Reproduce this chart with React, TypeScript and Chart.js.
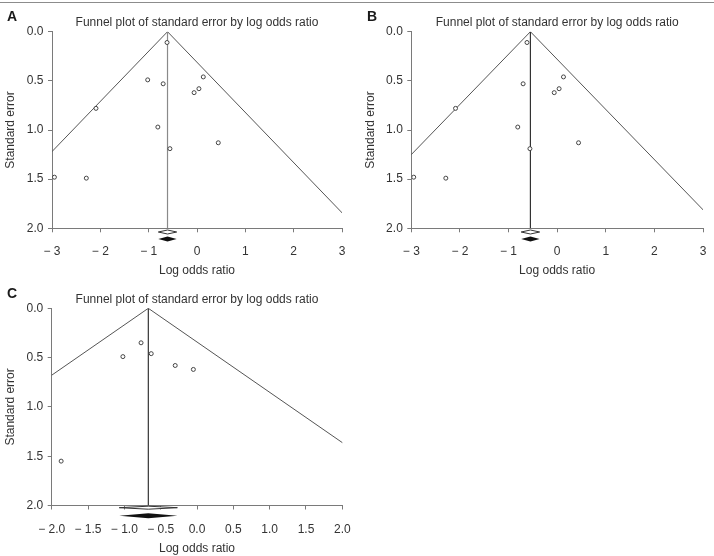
import React, { useEffect, useRef } from "react";
import { Chart, registerables } from "chart.js";

Chart.register(...registerables);

const FONT = "'Liberation Sans', Arial, Helvetica, sans-serif";
const TITLE = "Funnel plot of standard error by log odds ratio";
const X_TITLE = "Log odds ratio";
const Y_TITLE = "Standard error";

// Study estimates (log odds ratio) and their standard errors
const logOrA = [-0.62, -1.02, -0.7, 0.13, 0.04, -0.06, -2.09, -0.81, -0.56, 0.44, -2.95, -2.29];
const seA = [0.11, 0.49, 0.53, 0.46, 0.58, 0.62, 0.78, 0.97, 1.19, 1.13, 1.48, 1.49];

const logOrB = [-0.62, -0.7, 0.13, 0.04, -0.06, -2.09, -0.81, -0.56, 0.44, -2.95, -2.29];
const seB = [0.11, 0.53, 0.46, 0.58, 0.62, 0.78, 0.97, 1.19, 1.13, 1.48, 1.49];

const logOrC = [-0.77, -1.02, -0.63, -0.3, -0.05, -1.87];
const seC = [0.35, 0.49, 0.46, 0.58, 0.62, 1.55];

// Pooled estimate and 95% CI: [estimate, lower, upper]
const pooledA = [-0.61, -0.8, -0.42];
const pooledB = [-0.55, -0.74, -0.36];
const pooledC = [-0.67, -1.07, -0.27];

// Axis ticks
const xTicksAB = ["\u2212 3", "\u2212 2", "\u2212 1", "0", "1", "2", "3"];
const xTicksC = ["\u2212 2.0", "\u2212 1.5", "\u2212 1.0", "\u2212 0.5", "0.0", "0.5", "1.0", "1.5", "2.0"];
const yTicks = ["0.0", "0.5", "1.0", "1.5", "2.0"];

type Area = { left: number; right: number; top: number; bottom: number };

type PanelProps = {
  letter: string;
  left: number;
  top: number;
  width: number;
  height: number;
  area: Area;
  titleY: number;
  xTitleY: number;
  yTitleX: number;
  logOr: number[];
  se: number[];
  pooled: number[];
  xMin: number;
  xMax: number;
  xStep: number;
  xLabels: string[];
  midColor: string;
  diamondGap: number[];
  letterPos: number[];
};

const z = 1.96;

const diamondPlugin = {
  id: "pooledDiamonds",
  afterDraw(chart: any) {
    const opts = chart.options.plugins.pooledDiamonds;
    if (!opts) return;
    const { ctx, chartArea } = chart;
    const xs = chart.scales.x;
    const [mid, lo, hi] = opts.pooled;
    const cx = xs.getPixelForValue(mid);
    const l = xs.getPixelForValue(lo);
    const r = xs.getPixelForValue(hi);
    const draw = (cy: number, hh: number, filled: boolean) => {
      ctx.save();
      ctx.beginPath();
      ctx.moveTo(l, cy);
      ctx.lineTo(cx, cy - hh);
      ctx.lineTo(r, cy);
      ctx.lineTo(cx, cy + hh);
      ctx.closePath();
      if (filled) {
        ctx.fillStyle = "#111";
        ctx.fill();
      } else {
        ctx.fillStyle = "#fff";
        ctx.fill();
        ctx.strokeStyle = "#333";
        ctx.lineWidth = 1;
        ctx.stroke();
      }
      ctx.restore();
    };
    draw(chartArea.bottom + opts.gap[0], opts.gap[1], false);
    draw(chartArea.bottom + opts.gap[2], opts.gap[3], true);
  },
};

function FunnelPanel(p: PanelProps) {
  const ref = useRef<HTMLCanvasElement | null>(null);

  useEffect(() => {
    if (!ref.current) return;
    const [mean] = p.pooled;
    const points = p.logOr.map((x, i) => ({ x, y: p.se[i] }));
    const funnel = [
      { x: mean - z * 2, y: 2 },
      { x: mean, y: 0 },
      { x: mean + z * 2, y: 2 },
    ];
    const midLine = [
      { x: mean, y: 0 },
      { x: mean, y: 2 },
    ];
    const tickFont = { family: FONT, size: 12 };
    const axisColor = "#7a7a7a";
    const textColor = "#333";

    const chart = new Chart(ref.current, {
      type: "scatter",
      data: {
        datasets: [
          {
            data: points,
            pointRadius: 2,
            pointBorderWidth: 1,
            pointBorderColor: "#444",
            pointBackgroundColor: "#fff",
            showLine: false,
          },
          {
            data: midLine,
            showLine: true,
            borderColor: p.midColor,
            borderWidth: 1.2,
            pointRadius: 0,
          },
          {
            data: funnel,
            showLine: true,
            borderColor: "#555",
            borderWidth: 1,
            pointRadius: 0,
            tension: 0,
          },
        ],
      },
      options: {
        responsive: false,
        animation: false,
        events: [],
        layout: {
          padding: { left: 0, top: 0, right: p.width - p.area.right, bottom: 0 },
        },
        plugins: {
          legend: { display: false },
          tooltip: { enabled: false },
          title: {
            display: true,
            text: TITLE,
            fullSize: false,
            color: "#333",
            font: { family: FONT, size: 12, weight: "normal", lineHeight: 1.2 },
            padding: { top: p.titleY - 7.2, bottom: p.area.top - p.titleY - 7.2 },
          },
          pooledDiamonds: { pooled: p.pooled, gap: p.diamondGap },
        } as any,
        scales: {
          x: {
            type: "linear",
            position: "bottom",
            min: p.xMin,
            max: p.xMax,
            ticks: {
              stepSize: p.xStep,
              autoSkip: false,
              maxRotation: 0,
              padding: 12.5,
              color: textColor,
              font: tickFont,
              callback: (v: any) => p.xLabels[Math.round((Number(v) - p.xMin) / p.xStep)],
            },
            grid: { drawOnChartArea: false, drawTicks: true, tickLength: 4, color: axisColor },
            border: { display: true, color: axisColor, width: 1 },
            title: {
              display: true,
              text: X_TITLE,
              color: textColor,
              font: tickFont,
              padding: { top: 0, bottom: p.height - p.xTitleY - 7.2 },
            },
            afterFit: (s: any) => {
              s.height = p.height - p.area.bottom;
              s.paddingLeft = 0;
              s.paddingRight = 0;
            },
          },
          y: {
            type: "linear",
            position: "left",
            reverse: true,
            min: 0,
            max: 2,
            ticks: {
              stepSize: 0.5,
              padding: 4.5,
              color: textColor,
              font: tickFont,
              callback: (v: any) => yTicks[Math.round(Number(v) / 0.5)],
            },
            grid: { drawOnChartArea: false, drawTicks: true, tickLength: 4, color: axisColor },
            border: { display: true, color: axisColor, width: 1 },
            title: {
              display: true,
              text: Y_TITLE,
              color: textColor,
              font: tickFont,
              padding: { top: p.yTitleX - 7.2, bottom: 0 },
            },
            afterFit: (s: any) => {
              s.width = p.area.left;
              s.paddingTop = 0;
              s.paddingBottom = 0;
            },
          },
        },
      } as any,
      plugins: [diamondPlugin],
    });
    return () => chart.destroy();
  }, []);

  return (
    <>
      <canvas
        ref={ref}
        width={p.width}
        height={p.height}
        style={{ position: "absolute", left: p.left, top: p.top, width: p.width, height: p.height }}
      />
      <div
        style={{
          position: "absolute",
          left: p.left + p.letterPos[0],
          top: p.top + p.letterPos[1],
          font: `bold 14px ${FONT}`,
          lineHeight: "14px",
          color: "#1a1a1a",
        }}
      >
        {p.letter}
      </div>
    </>
  );
}

export default function App() {
  return (
    <div
      style={{
        position: "absolute",
        left: 0,
        top: 0,
        width: 714,
        height: 556,
        overflow: "hidden",
        background: "#fff",
      }}
    >
      <div style={{ position: "absolute", left: 0, top: 2, width: 714, height: 1, background: "#8c8c8c" }} />
      <FunnelPanel
        letter="A"
        left={0}
        top={0}
        width={357}
        height={281}
        area={{ left: 52, right: 342, top: 31.7, bottom: 228.3 }}
        titleY={23}
        xTitleY={271}
        yTitleX={11}
        logOr={logOrA}
        se={seA}
        pooled={pooledA}
        xMin={-3}
        xMax={3}
        xStep={1}
        xLabels={xTicksAB}
        midColor="#8a8a8a"
        diamondGap={[3.7, 2, 10.7, 2.5]}
        letterPos={[7, 9]}
      />
      <FunnelPanel
        letter="B"
        left={357}
        top={0}
        width={357}
        height={281}
        area={{ left: 54.3, right: 346, top: 31.7, bottom: 228.3 }}
        titleY={23}
        xTitleY={270.7}
        yTitleX={13.7}
        logOr={logOrB}
        se={seB}
        pooled={pooledB}
        xMin={-3}
        xMax={3}
        xStep={1}
        xLabels={xTicksAB}
        midColor="#333"
        diamondGap={[3.7, 2, 10.7, 2.5]}
        letterPos={[10, 9]}
      />
      <FunnelPanel
        letter="C"
        left={0}
        top={276}
        width={357}
        height={280}
        area={{ left: 51.7, right: 342.3, top: 32.3, bottom: 229.5 }}
        titleY={23.3}
        xTitleY={272.3}
        yTitleX={11}
        logOr={logOrC}
        se={seC}
        pooled={pooledC}
        xMin={-2}
        xMax={2}
        xStep={0.5}
        xLabels={xTicksC}
        midColor="#333"
        diamondGap={[2.2, 1.5, 10.2, 2.5]}
        letterPos={[7, 10]}
      />
    </div>
  );
}
